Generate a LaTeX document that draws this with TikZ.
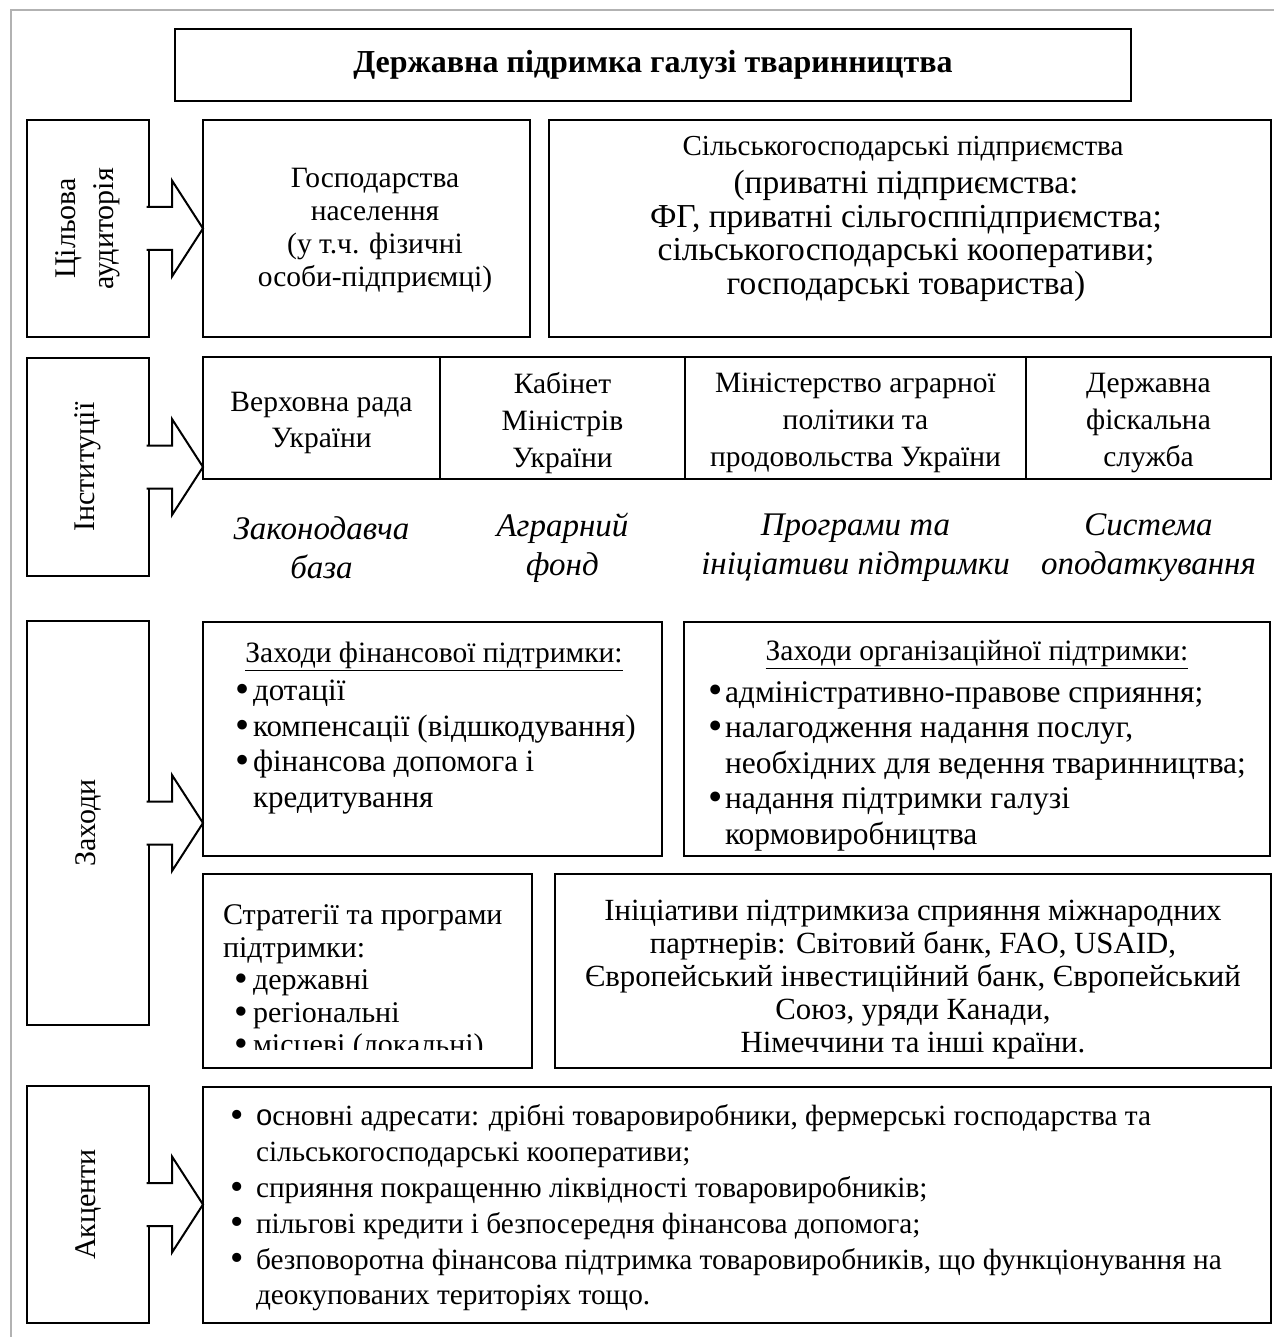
\documentclass[tikz,border=0pt]{standalone}
\usepackage{fontspec}
\usepackage{graphicx}
\setmainfont{Liberation Serif}
\newfontfamily\sansf{Liberation Sans}
\usetikzlibrary{calc}
\newcommand{\mybul}[1]{\makebox[#1][l]{\hspace*{-3pt}\smash{\raisebox{-0.06em}{\scalebox{1.3}{•}}}}}
\begin{document}
\begin{tikzpicture}[x=1pt,y=-1pt,
  every node/.style={inner sep=0pt, outer sep=0pt},
  txt/.style={font=\fontsize{29.5}{35.5}\selectfont, align=center},
  box/.style={draw, line width=1.6pt, anchor=north west},
  lbl/.style={draw, line width=2pt, anchor=north west, minimum width=122pt},
  arr/.style={draw, fill=white, line width=2pt, line join=miter}
]
\useasboundingbox (0,0) rectangle (1274,1337);
\draw[black!30, line width=1.5pt] (11,1337) -- (11,10) -- (1274,10);

% title
\node[draw, line width=2.2pt, minimum width=956pt, minimum height=72pt,
      font={\bfseries\fontsize{32}{36}\selectfont}] (title) at (653,65)
      {Державна підримка галузі тваринництва};

% ---------- content boxes ----------
\node[box, minimum width=327pt, minimum height=217pt] (c11) at (203,120) {};
\node[box, minimum width=722pt, minimum height=217pt] (c12) at (549,120) {};

\node[box, minimum width=237pt, minimum height=122pt] (i1) at (203,357) {};
\node[box, minimum width=245pt, minimum height=122pt] (i2) at (440,357) {};
\node[box, minimum width=341pt, minimum height=122pt] (i3) at (685,357) {};
\node[box, minimum width=245pt, minimum height=122pt] (i4) at (1026,357) {};

\node[box, minimum width=459pt, minimum height=234pt] (f1) at (203,622) {};
\node[box, minimum width=586pt, minimum height=234pt] (f2) at (684,622) {};
\node[box, minimum width=329pt, minimum height=194pt] (s1) at (203,874) {};
\node[box, minimum width=716pt, minimum height=194pt] (s2) at (555,874) {};
\node[box, minimum width=1068pt, minimum height=236pt] (a1) at (203,1087) {};

% ---------- texts ----------
\node[txt, font={\fontsize{29.5}{33}\selectfont}] (t11) at (375,230) {Господарства\\населення\\(у т.ч. фізичні\\особи-підприємці)};
\node[txt, font={\fontsize{29}{35}\selectfont}] (t12a) at (903,149) {Сільськогосподарські підприємства};
\node[txt, font={\fontsize{33.5}{33.5}\selectfont}] (t12b) at (906,236) {(приватні підприємства:\\ФГ, приватні сільгосппідприємства;\\сільськогосподарські кооперативи;\\господарські товариства)};

\begin{scope}
  \clip (203,357) rectangle (1271,479);
  \node[txt, font={\fontsize{29.5}{36}\selectfont}] (ti1) at (321.5,423) {Верховна рада\\України};
  \node[txt, font={\fontsize{29.5}{37}\selectfont}] (ti2) at (562.5,423) {Кабінет\\Міністрів\\України};
  \node[txt, font={\fontsize{29.5}{37}\selectfont}] (ti3) at (855.5,423) {Міністерство аграрної\\політики та\\продовольства України};
  \node[txt, font={\fontsize{29.5}{37}\selectfont}] (ti4) at (1148.5,423) {Державна\\фіскальна\\служба};
\end{scope}

\node[txt, font={\itshape\fontsize{33}{39}\selectfont}] (it1) at (321.5,548) {Законодавча\\база};
\node[txt, font={\itshape\fontsize{33}{39}\selectfont}] (it2) at (562.5,548) {Аграрний\\фонд};
\node[txt, font={\itshape\fontsize{33}{39}\selectfont}] (it3) at (855.5,548) {Програми та\\ініціативи підтримки};
\node[txt, font={\itshape\fontsize{33}{39}\selectfont}] (it4) at (1148.5,548) {Система\\оподаткування};

\node[txt] (tf1h) at (434,656) {\underline{Заходи фінансової підтримки:}};
\node[txt, align=left, anchor=west, font={\fontsize{31}{35.5}\selectfont}] (tf1) at (238,747)
  {\mybul{15pt}дотації\\\mybul{15pt}компенсації (відшкодування)\\\mybul{15pt}фінансова допомога і\\\hspace*{15pt}кредитування};

\node[txt] (tf2h) at (977,655) {\underline{Заходи організаційної підтримки:}};
\node[txt, align=left, anchor=west, font={\fontsize{31.5}{35.5}\selectfont}] (tf2) at (711,766)
  {\mybul{14pt}адміністративно-правове сприяння;\\\mybul{14pt}налагодження надання послуг,\\\hspace*{14pt}необхідних для ведення тваринництва;\\\mybul{14pt}надання підтримки галузі\\\hspace*{14pt}кормовиробництва};

\begin{scope}
  \clip (203,874) rectangle (532,1049);
  \node[txt, align=left, anchor=west, font={\fontsize{30}{32.5}\selectfont}] (ts1) at (223,983)
    {Стратегії та програми\\підтримки:\\\hspace*{14pt}\mybul{16pt}державні\\\hspace*{14pt}\mybul{16pt}регіональні\\\hspace*{14pt}\mybul{16pt}місцеві (локальні)};
\end{scope}

\node[txt, font={\fontsize{30.8}{33}\selectfont}] (ts2) at (913,980)
  {Ініціативи підтримкиза сприяння міжнародних\\партнерів: Світовий банк, FAO, USAID,\\Європейський інвестиційний банк, Європейський\\Союз, уряди Канади,\\Німеччини та інші країни.};

\node[txt, align=left, anchor=west, font={\fontsize{29.3}{35.8}\selectfont}] (ta1) at (233,1208)
  {\mybul{23pt}{\sansf о}сновні адресати: дрібні товаровиробники, фермерські господарства та\\\hspace*{23pt}сільськогосподарські кооперативи;\\\mybul{23pt}сприяння покращенню ліквідності товаровиробників;\\\mybul{23pt}пільгові кредити і безпосередня фінансова допомога;\\\mybul{23pt}безповоротна фінансова підтримка товаровиробників, що функціонування на\\\hspace*{23pt}деокупованих територіях тощо.};

% ---------- label boxes with block arrows ----------
\node[lbl, minimum height=217pt] (l1) at (27,120) {};
\node[lbl, minimum height=218pt] (l2) at (27,358) {};
\node[lbl, minimum height=404pt] (l3) at (27,621) {};
\node[lbl, minimum height=237pt] (l4) at (27,1086) {};

\node[txt, rotate=90, font={\fontsize{30}{38}\selectfont}] (tl1) at (l1.center) {Цільова\\аудиторія};
\node[txt, rotate=90, font={\fontsize{30}{38}\selectfont}] (tl2) at (l2.center) {Інституції};
\node[txt, rotate=90, font={\fontsize{30}{38}\selectfont}] (tl3) at (l3.center) {Заходи};
\node[txt, rotate=90, font={\fontsize{30}{38}\selectfont}] (tl4) at (l4.center) {Акценти};

\foreach \L in {l1,l2,l3,l4}{
  \filldraw[arr] ($(\L.east)+(-2.5,-21.5)$) -- ++(25.5,0) -- ++(0,-26.5) -- ++(31,48)
     -- ++(-31,48) -- ++(0,-26.5) -- ++(-25.5,0);
}
\end{tikzpicture}
\end{document}
